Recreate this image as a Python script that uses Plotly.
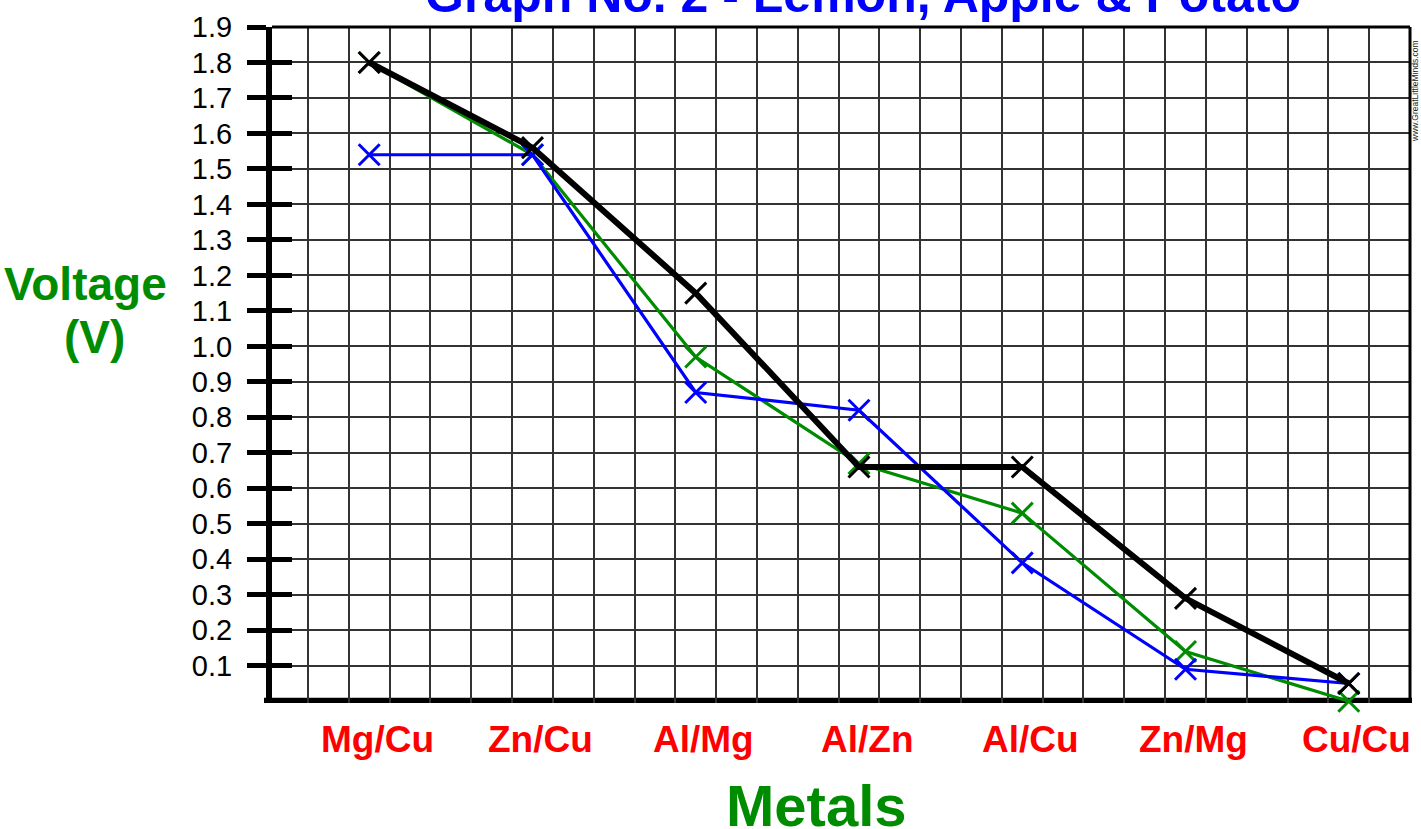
import plotly.graph_objects as go

# ---- data ----
categories = ["Mg/Cu", "Zn/Cu", "Al/Mg", "Al/Zn", "Al/Cu", "Zn/Mg", "Cu/Cu"]
black_series = [1.80, 1.56, 1.15, 0.66, 0.66, 0.29, 0.05]
green_series = [1.80, 1.54, 0.97, 0.67, 0.53, 0.14, 0.00]
blue_series = [1.54, 1.54, 0.87, 0.82, 0.39, 0.09, 0.05]
y_tick_values = [round(0.1 * k, 1) for k in range(1, 20)]
y_tick_labels = [f"{v:.1f}" for v in y_tick_values]
title_text = "Graph No. 2 - Lemon, Apple & Potato"
x_title = "Metals"
y_title_lines = ["Voltage", "(V)"]
watermark = "www.GreatLittleMinds.com"

# ---- layout geometry ----
W, H = 1421, 829
L, R, T, B = 272, 11, 27, 126
PW, PH = W - L - R, H - T - B
CELLS = 28           # vertical grid cells
X_START = 0.118      # leaves room for the thick axis line
Y_START = -0.005
STEP = 4             # cells per category
OFFSET = 2.5         # first category position in cells

def xp(px):  # pixel -> paper x
    return (px - L) / PW

def yp(py):  # pixel -> paper y
    return (H - B - py) / PH

xpos = [OFFSET + STEP * i for i in range(len(categories))]
FONT = "Liberation Sans, Arial, sans-serif"

fig = go.Figure()

# helper trace so the overlaying axis (inside tick marks) is drawn
fig.add_trace(go.Scatter(x=[xpos[0]], y=[y_tick_values[0]], yaxis="y2", mode="none",
                         showlegend=False, hoverinfo="skip"))

def add_series(vals, color, lw, msize, mw):
    fig.add_trace(go.Scatter(
        x=xpos, y=vals, mode="lines+markers",
        line=dict(color=color, width=lw),
        marker=dict(symbol="x-thin", size=msize, line=dict(color=color, width=mw), color=color),
        cliponaxis=False, showlegend=False, hoverinfo="skip",
    ))

add_series(green_series, "#008C00", 3.2, 21, 3)
add_series(blue_series, "#0000FF", 3.2, 21, 3)
add_series(black_series, "#000000", 6, 21, 3)

annotations = []
# category labels
for xv, c in zip(xpos, categories):
    annotations.append(dict(x=xv, xref="x", y=yp(739), yref="paper", text=f"<b>{c}</b>",
                            showarrow=False, xanchor="center", yanchor="middle", xshift=8,
                            font=dict(family=FONT, size=37, color="#FF0000")))
# axis titles
annotations.append(dict(x=xp(816), xref="paper", y=yp(805), yref="paper", text=f"<b>{x_title}</b>",
                        showarrow=False, xanchor="center", yanchor="middle",
                        font=dict(family=FONT, size=58, color="#008C00")))
annotations.append(dict(x=xp(85), xref="paper", y=yp(284), yref="paper", text=f"<b>{y_title_lines[0]}</b>",
                        showarrow=False, xanchor="center", yanchor="middle",
                        font=dict(family=FONT, size=46, color="#008C00")))
annotations.append(dict(x=xp(94), xref="paper", y=yp(337), yref="paper", text=f"<b>{y_title_lines[1]}</b>",
                        showarrow=False, xanchor="center", yanchor="middle",
                        font=dict(family=FONT, size=46, color="#008C00")))
# title (cut off at top, as in the reference)
annotations.append(dict(x=xp(863), xref="paper", y=yp(-5), yref="paper", text=f"<b>{title_text}</b>",
                        showarrow=False, xanchor="center", yanchor="middle",
                        font=dict(family=FONT, size=50, color="#0000FF")))
# watermark
annotations.append(dict(x=xp(1415), xref="paper", y=yp(91), yref="paper", text=watermark,
                        showarrow=False, xanchor="center", yanchor="middle", textangle=-90,
                        font=dict(family=FONT, size=8.5, color="#222222")))

grid_color = "#333333"
fig.update_layout(
    width=W, height=H,
    margin=dict(l=L, r=R, t=T, b=B, pad=0),
    paper_bgcolor="white", plot_bgcolor="white",
    xaxis=dict(range=[X_START, CELLS], tick0=0, dtick=1, showgrid=True, gridcolor=grid_color, gridwidth=1.5,
               showticklabels=False, ticks="", showline=False,
               zeroline=False, fixedrange=True),
    yaxis=dict(range=[Y_START, 1.9], tickmode="array", tickvals=y_tick_values, ticktext=y_tick_labels,
               ticks="outside", ticklen=19, tickwidth=5, tickcolor="black",
               showgrid=True, gridcolor=grid_color, gridwidth=1.5,
               showline=True, linecolor="black", linewidth=6, zeroline=False,
               tickfont=dict(family=FONT, size=29, color="black"), ticklabelstandoff=9,
               fixedrange=True),
    yaxis2=dict(range=[Y_START, 1.9], overlaying="y", anchor="x", side="left",
                tickmode="array", tickvals=y_tick_values, ticks="inside", ticklen=20, tickwidth=5,
                tickcolor="black", showticklabels=False, showgrid=False, showline=False,
                zeroline=False, fixedrange=True),
    shapes=[
        # top frame
        dict(type="line", xref="paper", yref="paper", x0=0, x1=1, y0=1, y1=1,
             line=dict(color="black", width=3)),
        # right frame
        dict(type="line", xref="paper", yref="paper", x0=1, x1=1, y0=yp(701), y1=1,
             line=dict(color="black", width=3)),
        # thick baseline (x axis)
        dict(type="line", xref="paper", yref="y", x0=xp(264), x1=xp(1412), y0=0, y1=0,
             line=dict(color="black", width=7), layer="below"),
    ],
    annotations=annotations,
)

fig.write_html("out.html", config={"displayModeBar": False},
               post_script="document.body.style.margin='0';document.body.style.padding='0';"
                           "document.body.style.overflow='hidden';")
